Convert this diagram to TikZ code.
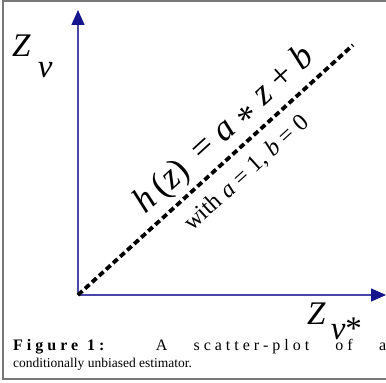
\documentclass[tikz,border=0pt]{standalone}
\usepackage{fontspec}
\setmainfont{Liberation Serif}
\usepackage{tikz}
\usetikzlibrary{arrows.meta,positioning,calc}
\definecolor{axisblue}{RGB}{72,72,168}
\definecolor{tipblue}{RGB}{20,20,140}
\definecolor{framegray}{RGB}{120,120,120}

\begin{document}
\begin{tikzpicture}[x=1pt,y=1pt,
    axis/.style={line width=1.3pt, axisblue, -{Triangle[length=15pt,width=13pt,fill=tipblue,color=tipblue]}},
    fitline/.style={line width=3.8pt, dash pattern=on 6pt off 3.5pt},
    biglab/.style={font=\fontsize{33}{33}\selectfont, inner sep=0pt, anchor=base west},
    caption/.style={inner sep=0pt, anchor=base west}]
% Canvas and frame
\useasboundingbox (0,0) rectangle (386,383);
\clip (0,0) rectangle (386,383);
\draw[framegray, line width=2pt] (3,4) rectangle (392,382);

% Axes
\coordinate (o) at (78,88);
\coordinate (ytop) at (78,373);
\coordinate (xend) at (386,88);
\draw[axis] (o) -- (ytop);
\draw[axis] (o) -- (xend);

% Axis labels
\node[biglab] (zv) at (12,326) {\textit{Z}\hspace{7pt}\raisebox{-21pt}{\textit{v}}};
\node[biglab] (zvs) at (307,58) {\textit{Z}\hspace{5pt}\raisebox{-15pt}{\textit{v}*}};

% Fitted line h(z) = a*z + b
\coordinate (lend) at (353,338);
\draw[fitline] (o) -- (lend);
\path (o) -- (lend) coordinate[pos=0.59] (pmid) coordinate[pos=0.556] (qmid);
\node[font=\fontsize{36}{36}\selectfont, inner sep=0pt, anchor=base, rotate=42.3] (hz)
    at ($(pmid)!14pt!90:(lend)$)
    {\textit{h}\,(\textit{z})\, = \textit{a} \raisebox{-0.27em}{*} \textit{z} + \textit{b}};
\node[font=\fontsize{24}{24}\selectfont, inner sep=0pt, anchor=base, rotate=42.3] (with)
    at ($(qmid)!30pt!-90:(lend)$)
    {with \textit{a} = 1, \textit{b} = 0};

% Caption
\node[caption] (cap1) at (13,32)
    {\fontsize{16}{18}\selectfont\addfontfeatures{LetterSpace=25}%
     \makebox[373pt][s]{\textbf{Figure\hspace{9pt}1:} A scatter-plot of a}};
\node[caption] (cap2) at (13,15) {\fontsize{13.5}{16}\selectfont conditionally unbiased estimator.};
\end{tikzpicture}
\end{document}
